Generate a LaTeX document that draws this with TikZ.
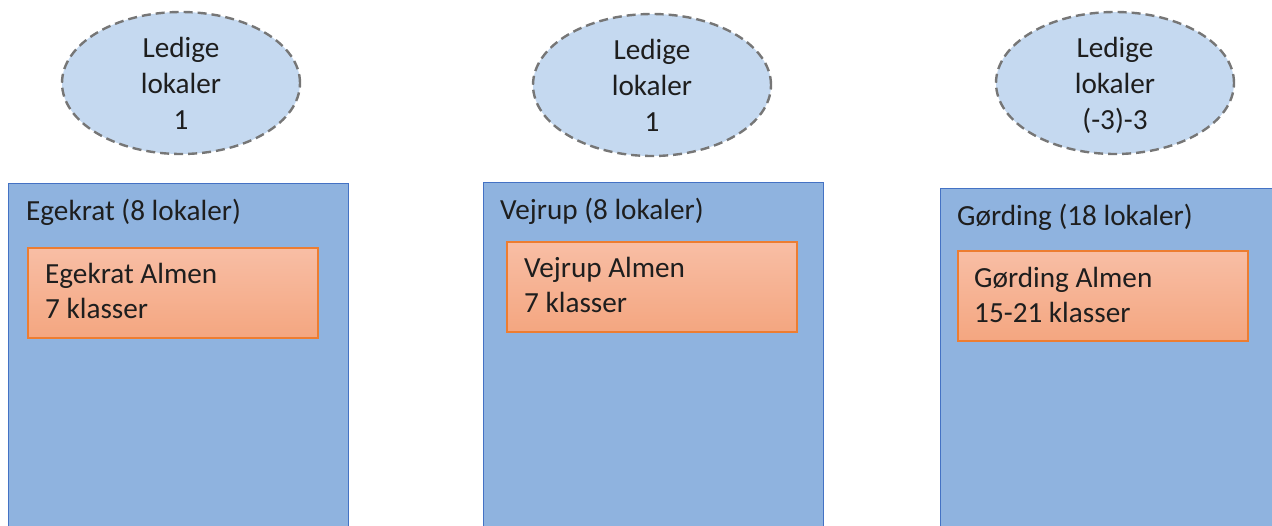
\documentclass[tikz,border=0pt]{standalone}
\usepackage{fontspec}
\setmainfont{Carlito}
\usepackage{xcolor}
\usepackage{tikz}
\usetikzlibrary{shapes.geometric}

\definecolor{ledigfill}{RGB}{197,217,240}
\definecolor{ledigline}{RGB}{118,118,118}
\definecolor{skolefill}{RGB}{143,179,223}
\definecolor{skoleline}{RGB}{68,114,196}
\definecolor{almentop}{RGB}{248,190,165}
\definecolor{almenbot}{RGB}{244,166,128}
\definecolor{almenline}{RGB}{237,125,49}
\definecolor{tekst}{RGB}{30,30,30}

\begin{document}
\begin{tikzpicture}[x=1pt,y=-1pt]
  \tikzstyle{ledig} = [ellipse, draw=ledigline, fill=ledigfill, line width=2.4pt, dash pattern=on 9pt off 5pt, minimum width=238pt, minimum height=142pt, inner sep=0pt, align=center, text=tekst, font=\fontsize{29.2}{36}\selectfont]
  \tikzstyle{skole} = [rectangle, draw=skoleline, fill=skolefill, line width=1pt, anchor=north west, inner sep=0pt]
  \tikzstyle{almen} = [rectangle, draw=almenline, top color=almentop, bottom color=almenbot, line width=1.5pt, anchor=north west, inner sep=0pt, minimum width=290pt, minimum height=90pt]
  \tikzstyle{navn} = [anchor=base west, inner sep=0pt, text=tekst, font=\fontsize{29.2}{35}\selectfont]

  \useasboundingbox (0,0) rectangle (1272,525);
  \clip (0,0) rectangle (1272,525);

  % ledige lokaler
  \node[ledig] (ledig1) at (181,83) {Ledige\\lokaler\\1};
  \node[ledig] (ledig2) at (652,85) {Ledige\\lokaler\\1};
  \node[ledig] (ledig3) at (1115,83) {Ledige\\lokaler\\\smash{(-3)-3}};

  % skoler
  \node[skole, minimum width=340pt, minimum height=350pt] (egekrat) at (8,183) {};
  \node[skole, minimum width=340pt, minimum height=350pt] (vejrup) at (483,182) {};
  \node[skole, minimum width=340pt, minimum height=345pt] (gording) at (940,188) {};

  \node[navn] (egekratnavn) at (26,220) {Egekrat (8 lokaler)};
  \node[navn] (vejrupnavn) at (500,219) {Vejrup (8 lokaler)};
  \node[navn] (gordingnavn) at (957,225) {Gørding (18 lokaler)};

  % almen
  \node[almen] (egekratalmen) at (27,247) {};
  \node[almen] (vejrupalmen) at (506,241) {};
  \node[almen] (gordingalmen) at (957,250) {};

  \node[navn] (egekrat1) at (45,283) {Egekrat Almen};
  \node[navn] (egekrat2) at (45,318) {7 klasser};
  \node[navn] (vejrup1) at (524,277) {Vejrup Almen};
  \node[navn] (vejrup2) at (524,312) {7 klasser};
  \node[navn] (gording1) at (974,287) {Gørding Almen};
  \node[navn] (gording2) at (974,322) {15-21 klasser};
\end{tikzpicture}
\end{document}
